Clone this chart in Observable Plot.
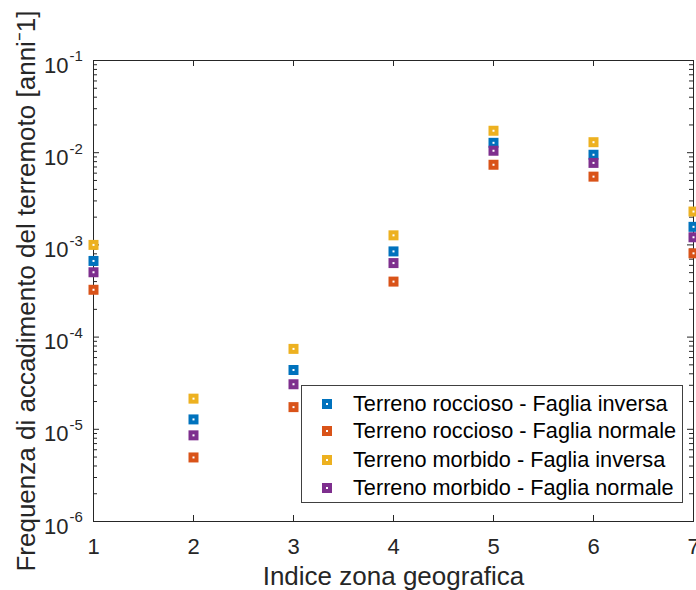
<!DOCTYPE html>
<html><head><meta charset="utf-8">
<script src="https://cdn.jsdelivr.net/npm/d3@7"></script>
<script src="https://cdn.jsdelivr.net/npm/@observablehq/plot@0.6"></script>
<style>
body{margin:0;background:#fff;font-family:"Liberation Sans",Arial,Helvetica,sans-serif;}
#wrap{position:relative;width:696px;height:590px;overflow:hidden;}
#legend{position:absolute;left:301px;top:385px;width:382px;height:118px;border:1px solid #404040;background:#fff;box-sizing:border-box;}
.row{position:absolute;left:0;height:28px;width:380px;font-size:21.7px;color:#000;white-space:nowrap;}
.sw{position:absolute;left:20px;top:9px;width:10px;height:10px;}
.sw i{position:absolute;left:4px;top:4px;width:2px;height:2px;background:#fff;}
.lt{position:absolute;left:51px;top:0;line-height:28px;}
</style></head>
<body><div id="wrap"></div>
<script>
// ---- data ----
const zones = [1, 2, 3, 4, 5, 6, 7];
const seriesNames = [
  "Terreno roccioso - Faglia inversa",
  "Terreno roccioso - Faglia normale",
  "Terreno morbido - Faglia inversa",
  "Terreno morbido - Faglia normale"
];
const seriesColors = ["#0072BD", "#D95319", "#EDB120", "#7E2F8E"];
const rocciosoInversa = [6.7e-4, 1.28e-5, 4.4e-5, 8.5e-4, 1.28e-2, 9.5e-3, 1.57e-3];
const rocciosoNormale = [3.26e-4, 4.95e-6, 1.74e-5, 4.0e-4, 7.4e-3, 5.5e-3, 8.1e-4];
const morbidoInversa = [1.0e-3, 2.15e-5, 7.45e-5, 1.27e-3, 1.73e-2, 1.3e-2, 2.3e-3];
const morbidoNormale = [5.05e-4, 8.6e-6, 3.08e-5, 6.35e-4, 1.05e-2, 7.75e-3, 1.21e-3];
const xTicks = [1, 2, 3, 4, 5, 6, 7];
const yTicks = [1e-6, 1e-5, 1e-4, 1e-3, 1e-2, 1e-1];
const yExponents = ["-6", "-5", "-4", "-3", "-2", "-1"];
const xLabel = "Indice zona geografica";
const yLabel = "Frequenza di accadimento del terremoto [anni\u207B1]";

// ---- build ----
const allSeries = [rocciosoInversa, rocciosoNormale, morbidoInversa, morbidoNormale];
const points = [];
allSeries.forEach((vals, s) => vals.forEach((v, i) => points.push({zone: zones[i], value: v, s})));
const yMinor = [];
for (let e = -6; e < -1; e++) for (let m = 2; m <= 9; m++) yMinor.push(m * Math.pow(10, e));
const yTickLabels = yTicks.map((v, i) => ({v, exp: yExponents[i]}));

const W = 696, H = 590, mL = 93, mR = 3, mT = 60, mB = 69;
const pw = W - mL - mR, ph = H - mT - mB;
const ink = "#262626";

const chart = Plot.plot({
  width: W, height: H, marginLeft: mL, marginRight: mR, marginTop: mT, marginBottom: mB,
  style: {fontFamily: '"Liberation Sans", Arial, Helvetica, sans-serif', background: "#fff", overflow: "visible"},
  x: {domain: [1, 7], axis: null},
  y: {type: "log", domain: [1e-6, 1e-1], axis: null},
  marks: [
    Plot.frame({stroke: ink, strokeWidth: 1}),
    Plot.tickY(yTicks, {y: d => d, insetRight: pw - 6, stroke: ink}),
    Plot.tickY(yTicks, {y: d => d, insetLeft: pw - 6, stroke: ink}),
    Plot.tickY(yMinor, {y: d => d, insetRight: pw - 4, stroke: ink}),
    Plot.tickY(yMinor, {y: d => d, insetLeft: pw - 4, stroke: ink}),
    Plot.tickX(xTicks, {x: d => d, insetTop: ph - 6, stroke: ink}),
    Plot.tickX(xTicks, {x: d => d, insetBottom: ph - 6, stroke: ink}),
    Plot.text(xTicks, {x: d => d, y: 1e-6, dy: 25, text: d => String(d), fontSize: 22, fill: ink}),
    Plot.text(yTickLabels, {x: 1, y: "v", dx: -25, dy: 5, textAnchor: "end", text: () => "10", fontSize: 22, fill: ink}),
    Plot.text(yTickLabels, {x: 1, y: "v", dx: -24, dy: -4, textAnchor: "start", text: "exp", fontSize: 15, fill: ink}),
    Plot.text([xLabel], {frameAnchor: "bottom", dy: 63, text: d => d, fontSize: 26, fill: ink}),
    Plot.text([yLabel], {frameAnchor: "left", textAnchor: "middle", dx: -67, rotate: -90, text: d => d, fontSize: 26, fill: ink}),
    Plot.dot(points, {x: "zone", y: "value", symbol: "square", r: 5.64, fill: d => seriesColors[d.s], stroke: "none"}),
    Plot.dot(points, {x: "zone", y: "value", symbol: "square", r: 1.13, fill: "#fff", stroke: "none"})
  ]
});
const wrap = document.getElementById("wrap");
wrap.appendChild(chart);

// legend (inside the axes, as in the reference)
const leg = document.createElement("div");
leg.id = "legend";
const rowsY = [4, 31, 60, 88];
seriesNames.forEach((name, i) => {
  const row = document.createElement("div");
  row.className = "row";
  row.style.top = rowsY[i] + "px";
  const sw = document.createElement("div");
  sw.className = "sw";
  sw.style.background = seriesColors[i];
  sw.appendChild(document.createElement("i"));
  const t = document.createElement("span");
  t.className = "lt";
  t.textContent = name;
  row.appendChild(sw); row.appendChild(t);
  leg.appendChild(row);
});
wrap.appendChild(leg);
</script></body></html>
